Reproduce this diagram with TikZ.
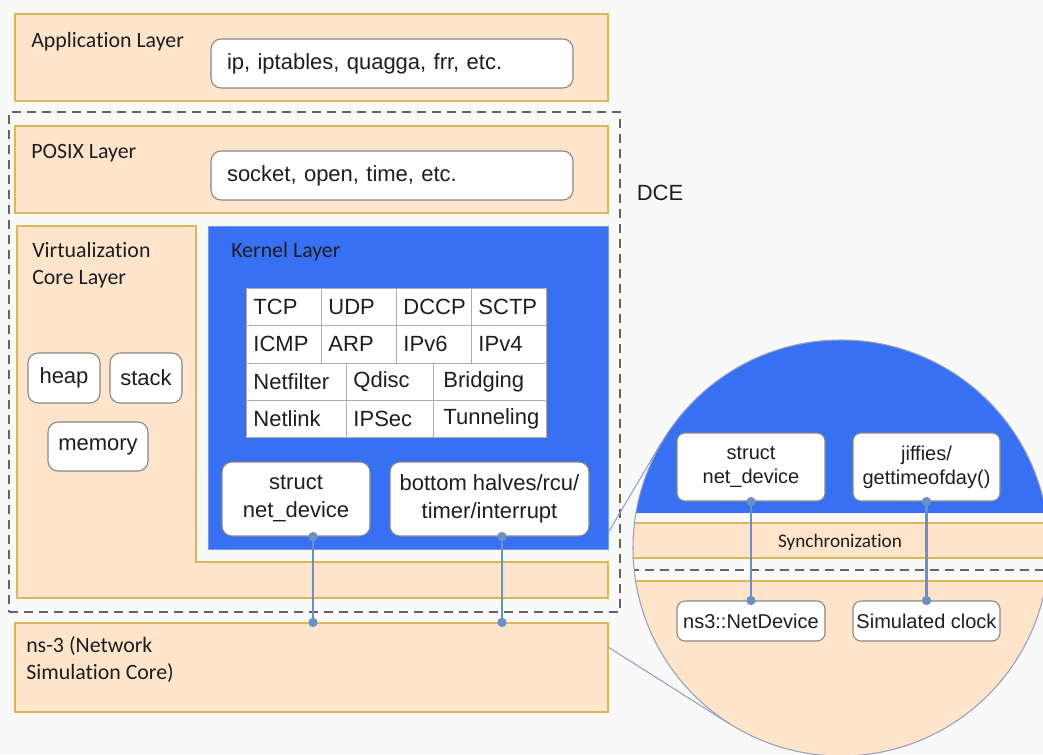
\documentclass[tikz,border=0pt]{standalone}
\usepackage{fontspec}
\setmainfont{Liberation Sans}[Ligatures=NoCommon]
\newfontfamily\calfont{Carlito}[Ligatures=NoCommon]
\usetikzlibrary{calc}
\definecolor{bg}{RGB}{250,249,249}
\definecolor{peach}{RGB}{253,228,203}
\definecolor{gold}{RGB}{222,183,92}
\definecolor{kblue}{RGB}{56,112,244}
\definecolor{kedge}{RGB}{120,155,235}
\definecolor{wborder}{RGB}{135,135,135}
\definecolor{conn}{RGB}{108,144,196}
\definecolor{dashc}{RGB}{100,100,100}
\definecolor{tang}{RGB}{125,155,200}
\definecolor{circedge}{RGB}{150,160,185}
\definecolor{ink}{RGB}{30,30,30}
\newcommand{\fsA}{\fontsize{16.5}{21}\selectfont}
\newcommand{\fsB}{\fontsize{15}{18}\selectfont}
\newcommand{\fsL}{\calfont\fontsize{16.4}{20.3}\selectfont}
\tikzset{
  layer/.style={draw=gold, fill=peach, line width=0.9pt, inner sep=0},
  kernelbox/.style={draw=kedge, fill=kblue, line width=0.6pt, inner sep=0},
  wbox/.style={draw=wborder, fill=white, rounded corners=7.5pt, line width=0.8pt, inner sep=0, align=center, font=\fsA, text=ink},
  wboxs/.style={wbox, font=\fsB, rounded corners=6pt},
  wboxl/.style={wbox, align=left, inner xsep=0, text width=#1},
  cell/.style={draw=gray!65, fill=white, line width=0.7pt, inner xsep=0, inner ysep=0, align=left, anchor=north west, font=\fsA, text=ink, minimum height=27.94pt, text width=#1},
  lbl/.style={font=\fsL, inner sep=0, align=left, text=ink},
  link/.style={draw=conn, line width=1.6pt},
  dot/.style={circle, fill=conn, inner sep=0, minimum size=7pt},
  dce/.style={draw=dashc, line width=2.1pt, dash pattern=on 6.75pt off 4.5pt, inner sep=0},
  tangline/.style={draw=tang, line width=0.7pt},
  magc/.style={circle, fill=peach, inner sep=0, minimum size=312pt},
}
\begin{document}
\begin{tikzpicture}[x=0.75pt,y=-0.75pt]
\useasboundingbox (0,0) rectangle (1043,754);
\fill[bg] (0,0) rectangle (1043,754);

% Application layer
\node[layer, minimum width=444.75pt, minimum height=65.25pt] (app) at (311.5,57.5) {};
\node[lbl, anchor=west] (applbl) at (31,41.5) {Application Layer};
\node[wboxl=271.5pt, minimum height=36.75pt] (ip) at (392,63.5) {\hspace*{12pt}ip, iptables, quagga, frr, etc.};

% DCE dashed region
\node[dce, minimum width=458.25pt, minimum height=375pt] (dce) at (314.5,362) {};
\node[font=\fsA, text=ink, inner sep=0] (dcelbl) at (660,193) {DCE};

% POSIX layer
\node[layer, minimum width=444.75pt, minimum height=65.25pt] (posix) at (311.5,169.5) {};
\node[lbl, anchor=west] (posixlbl) at (31,153) {POSIX Layer};
\node[wboxl=271.5pt, minimum height=36.75pt] (sock) at (392,175.5) {\hspace*{12pt}socket, open, time, etc.};

% Virtualization core layer (L shape)
\filldraw[fill=peach, draw=gold, line width=0.9pt]
  (17,226) -- (196,226) -- (196,562) -- (608,562) -- (608,598) -- (17,598) -- cycle;
\node[lbl, anchor=north west] (virtlbl) at (32,242) {Virtualization\\Core Layer};
\node[wbox, minimum width=54pt, minimum height=37.5pt] (heap) at (64,378) {heap};
\node[wbox, minimum width=54pt, minimum height=37.5pt] (stack) at (146,378) {stack};
\node[wbox, minimum width=75pt, minimum height=36.75pt] (memory) at (98,446.5) {memory};

% Kernel layer
\node[kernelbox, minimum width=300pt, minimum height=242.25pt] (kernel) at (408,387.5) {};
\node[lbl, anchor=north west] (kernlbl) at (231,242) {Kernel Layer};

% protocol table
\node[cell=56.25pt] (tcp)  at (246,288) {\hspace*{5.25pt}TCP};
\node[cell=56.25pt] (udp)  at (321,288) {\hspace*{5.25pt}UDP};
\node[cell=56.25pt] (dccp) at (396,288) {\hspace*{5.25pt}DCCP};
\node[cell=56.25pt] (sctp) at (471,288) {\hspace*{5.25pt}SCTP};
\node[cell=56.25pt] (icmp) at (246,325.25) {\hspace*{5.25pt}ICMP};
\node[cell=56.25pt] (arp)  at (321,325.25) {\hspace*{5.25pt}ARP};
\node[cell=56.25pt] (ipv6) at (396,325.25) {\hspace*{5.25pt}IPv6};
\node[cell=56.25pt] (ipv4) at (471,325.25) {\hspace*{5.25pt}IPv4};
\node[cell=75pt]    (nf)   at (246,362.5) {\hspace*{5.25pt}Netfilter};
\node[cell=65.25pt] (qd)   at (346,362.5) {\hspace*{5.25pt}Qdisc};
\node[cell=84.75pt] (br)   at (433,362.5) {\hspace*{7.5pt}Bridging};
\node[cell=75pt]    (nl)   at (246,399.75) {\hspace*{5.25pt}Netlink};
\node[cell=65.25pt] (ips)  at (346,399.75) {\hspace*{5.25pt}IPSec};
\node[cell=84.75pt] (tun)  at (433,399.75) {\hspace*{7.5pt}Tunneling};

\node[wbox, minimum width=111pt, minimum height=55.5pt] (struct) at (296,499) {struct\\net\_device};
\node[wbox, minimum width=149.25pt, minimum height=55.5pt] (bh) at (489.5,499) {bottom halves/rcu/\\timer/interrupt};

% ns-3
\node[layer, minimum width=444.75pt, minimum height=66.75pt] (ns3) at (311.5,667.5) {};
\node[lbl, anchor=north west] (ns3lbl) at (26,636) {ns-3 (Network\\Simulation Core)};

% connectors kernel -> ns-3
\coordinate (xa) at (313,0);
\coordinate (xb) at (502,0);
\draw[link] (struct.south -| xa) -- (ns3.north -| xa);
\draw[link] (bh.south -| xb) -- (ns3.north -| xb);
\node[dot] (d1) at (struct.south -| xa) {};
\node[dot] (d2) at (ns3.north -| xa) {};
\node[dot] (d3) at (bh.south -| xb) {};
\node[dot] (d4) at (ns3.north -| xb) {};

% magnifier
\node[magc] (mag) at (841,548) {};
\coordinate (tk) at (608,533);
\coordinate (tn) at (608,647);
\draw[tangline] (tk) -- (tangent cs:node=mag,point={(tk)},solution=2);
\draw[tangline] (tn) -- (tangent cs:node=mag,point={(tn)},solution=1);
\begin{scope}
  \clip (mag.center) circle[radius=156pt];
  \fill[kblue] (600,300) rectangle (1100,513);
  \fill[bg] (600,513) rectangle (1100,523);
  \fill[bg] (600,558) rectangle (1100,581);
  \draw[gold, line width=0.9pt] (600,523) -- (1100,523);
  \draw[gold, line width=0.9pt] (600,558) -- (1100,558);
  \draw[gold, line width=0.9pt] (600,581) -- (1100,581);
  \draw[dashc, line width=1.7pt, dash pattern=on 6.75pt off 4.5pt] (600,570) -- (1100,570);
\end{scope}
\node[font=\calfont\fontsize{14.4}{17}\selectfont, text=ink, inner sep=0] (sync) at (840,542) {Synchronization};
\node[wboxs, minimum width=111pt, minimum height=51pt] (sn) at (751,467) {struct\\net\_device};
\node[wboxs, minimum width=110.25pt, minimum height=51pt] (jf) at (926.5,467) {jiffies/\\gettimeofday()};
\node[wboxs, minimum width=111pt, minimum height=30pt] (nd) at (751,621) {ns3::NetDevice};
\node[wboxs, minimum width=110.25pt, minimum height=30pt] (sc) at (926.5,621) {Simulated clock};
\draw[link] (sn.south) -- (nd.north);
\draw[link] (jf.south) -- (sc.north);
\node[dot] (d5) at (sn.south) {};
\node[dot] (d6) at (nd.north) {};
\node[dot] (d7) at (jf.south) {};
\node[dot] (d8) at (sc.north) {};
\draw[draw=circedge, line width=0.8pt] (mag.center) circle[radius=156pt];
\end{tikzpicture}
\end{document}
